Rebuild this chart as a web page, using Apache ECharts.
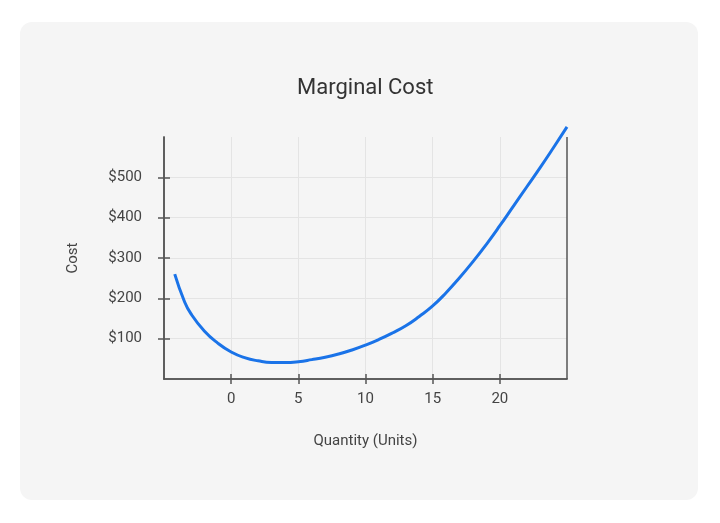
<!DOCTYPE html>
<html>
<head>
<meta charset="utf-8">
<title>Marginal Cost</title>
<script src="https://cdn.jsdelivr.net/npm/echarts@6/dist/echarts.min.js"></script>
<style>
  html, body {
    margin: 0;
    padding: 0;
    width: 720px;
    height: 523px;
    background: #ffffff;
    overflow: hidden;
  }

  .card {
    position: absolute;
    left: 20px;
    top: 22px;
    width: 678px;
    height: 478px;
    border-radius: 12px;
    background: #f5f5f5;
  }

  #chart {
    position: absolute;
    left: 0;
    top: 0;
    width: 720px;
    height: 523px;
  }
</style>
</head>
<body>
<div class="card"></div>
<div id="chart"></div>
<script>
// quantity (units) and marginal cost ($)
const quantities = [
  -4.2, -3.5, -3, -2, -1, 0, 1, 2, 3, 4, 5, 6, 7, 8, 9,
  10, 11, 12, 13, 14, 15, 16, 17, 18, 19, 20, 21, 22, 23, 24, 25
];
const marginalCost = [
  260, 194, 162, 119, 89, 67, 53, 45, 41, 41, 43, 48, 54, 62, 72,
  84, 98, 114, 132, 155, 181, 214, 251, 291, 334, 380, 428, 476, 524, 574, 625
];

const xTickValues = [0, 5, 10, 15, 20];
const yTickValues = [100, 200, 300, 400, 500];

const axisColor = "#555555";
const labelColor = "#444444";
const gridColor = "#e4e4e4";
const fontFamily = "Roboto, 'Noto Sans', sans-serif";

const gridLeft = 164;
const gridRight = 153;
const gridTop = 137;
const gridBottom = 144;
const plotWidth = 720 - gridLeft - gridRight;
const plotHeight = 523 - gridTop - gridBottom;

const seriesData = quantities.map((q, i) => [q, marginalCost[i]]);

const chart = echarts.init(document.getElementById("chart"), null, { renderer: "canvas" });

const baseX = { type: "value", min: -5, max: 25, interval: 5 };
const baseY = { type: "value", min: 0, max: 600, interval: 100 };
const tickStyle = { color: axisColor, width: 1.5 };

chart.setOption({
  backgroundColor: "transparent",
  animation: false,
  title: {
    text: "Marginal Cost",
    left: 292,
    top: 72,
    textStyle: {
      fontFamily,
      fontSize: 22,
      fontWeight: "normal",
      color: "#333333",
    },
  },
  grid: {
    left: gridLeft,
    right: gridRight,
    top: gridTop,
    bottom: gridBottom,
  },
  xAxis: [
    {
      ...baseX,
      name: "Quantity (Units)",
      nameLocation: "middle",
      nameGap: 55,
      nameTextStyle: { fontFamily, fontSize: 15, color: labelColor },
      axisLine: { show: true, onZero: false, lineStyle: tickStyle },
      axisTick: { show: true, length: 5, customValues: xTickValues, lineStyle: tickStyle },
      axisLabel: { customValues: xTickValues, margin: 13, fontFamily, fontSize: 15, color: labelColor },
      splitLine: { show: true, lineStyle: { color: gridColor, width: 1 } },
    },
    {
      // top axis pulled down onto the bottom edge: its outward ticks point
      // up into the plot, so the bottom ticks cross the axis line
      ...baseX,
      position: "top",
      offset: -plotHeight,
      axisLine: { show: true, onZero: false, lineStyle: tickStyle },
      axisTick: { show: true, length: 5, customValues: xTickValues, lineStyle: tickStyle },
      axisLabel: { show: false },
      splitLine: { show: false },
    },
  ],
  yAxis: [
    {
      ...baseY,
      name: "Cost",
      nameLocation: "middle",
      nameGap: 83,
      nameRotate: 90,
      nameTextStyle: { fontFamily, fontSize: 15, color: labelColor },
      axisLine: { show: true, onZero: false, lineStyle: tickStyle },
      axisTick: { show: true, length: 6, customValues: yTickValues, lineStyle: tickStyle },
      axisLabel: {
        customValues: yTickValues,
        margin: 22,
        fontFamily,
        fontSize: 15,
        color: labelColor,
        formatter: (value) => `$${value}`,
      },
      splitLine: { show: true, lineStyle: { color: gridColor, width: 1 } },
    },
    {
      // same trick for the left ticks
      ...baseY,
      position: "right",
      offset: -plotWidth,
      axisLine: { show: true, onZero: false, lineStyle: tickStyle },
      axisTick: { show: true, length: 6, customValues: yTickValues, lineStyle: tickStyle },
      axisLabel: { show: false },
      splitLine: { show: false },
    },
  ],
  series: [
    {
      type: "line",
      data: seriesData,
      smooth: 0.5,
      clip: false,
      showSymbol: false,
      lineStyle: { color: "#1a73e8", width: 3 },
      z: 5,
      markLine: {
        // right-hand frame line at the end of the quantity axis
        silent: true,
        symbol: "none",
        label: { show: false },
        lineStyle: { color: axisColor, width: 1.5, type: "solid" },
        data: [{ xAxis: 25 }],
      },
    },
  ],
});
</script>
</body>
</html>
